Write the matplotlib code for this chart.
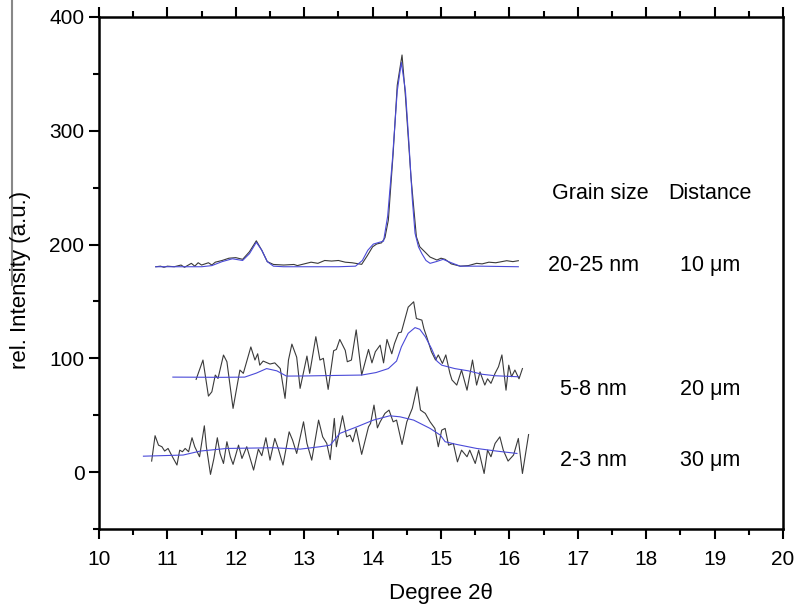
import matplotlib.pyplot as plt
from matplotlib.lines import Line2D
import numpy as np

plt.rcParams['font.family'] = ['Liberation Sans', 'DejaVu Sans']

# 20-25 nm, measured data and fit
x1 = [10.83, 10.9, 10.95, 11.0, 11.1, 11.2, 11.25, 11.35, 11.4, 11.45, 11.5, 11.6, 11.65,
      11.7, 11.8, 11.9, 12.0, 12.1, 12.2, 12.3, 12.38, 12.46, 12.55, 12.7, 12.85, 12.9,
      13.0, 13.1, 13.2, 13.3, 13.4, 13.5, 13.6, 13.7, 13.84, 13.92, 14.0, 14.06, 14.13,
      14.18, 14.23, 14.3, 14.36, 14.43, 14.48, 14.52, 14.56, 14.6, 14.64, 14.69, 14.74,
      14.84, 14.94, 15.0, 15.06, 15.15, 15.28, 15.4, 15.52, 15.6, 15.7, 15.8, 15.96,
      16.05, 16.13]
y1 = [180.5, 181, 180, 181, 180.5, 182, 180, 183.5, 181, 184, 182, 184, 182,
      184.5, 186, 188, 188.5, 187, 193.7, 203.3, 195, 185, 182.5, 182, 182.5, 181.5,
      183, 184.5, 183.5, 186, 185.5, 186, 184.5, 184, 182.6, 190, 198, 200.5, 201.5,
      206, 221.5, 280, 340, 366.6, 330, 294.8, 260, 233, 206.8, 198, 195,
      189, 186.4, 188, 187, 183, 181, 181.5, 183.5, 183, 184.5, 184, 185.8,
      185, 185.8]
fx1 = [10.83, 11.5, 11.65, 11.8, 11.95, 12.1, 12.2, 12.3, 12.38, 12.46, 12.55, 12.7, 13.5,
       13.75, 13.85, 13.93, 14.01, 14.1, 14.16, 14.22, 14.29, 14.36, 14.42, 14.48, 14.53,
       14.58, 14.62, 14.67, 14.72, 14.78, 14.84, 14.93, 15.03, 15.15, 15.28, 15.57, 16.13]
fy1 = [180.5, 180.5, 181.5, 185, 187.5, 186, 192, 202, 195, 185, 181, 180.5, 180.5,
       181, 186, 195, 200.4, 202, 203, 225, 275, 335, 360, 335, 290,
       240, 210, 198, 192, 186, 183.5, 185, 187, 184, 181, 181, 180.5]

# 5-8 nm
x2 = [11.42, 11.52, 11.6, 11.65, 11.7, 11.74, 11.82, 11.87, 11.96, 12.06, 12.11, 12.22,
      12.28, 12.32, 12.35, 12.4, 12.5, 12.57, 12.65, 12.72, 12.77, 12.82, 12.89, 12.94,
      13.04, 13.08, 13.17, 13.23, 13.28, 13.35, 13.43, 13.47, 13.52, 13.6, 13.63, 13.69,
      13.76, 13.84, 13.94, 13.99, 14.04, 14.11, 14.16, 14.21, 14.28, 14.32, 14.38, 14.42,
      14.52, 14.6, 14.64, 14.72, 14.75, 14.79, 14.86, 14.92, 14.96, 15.02, 15.07, 15.13,
      15.16, 15.23, 15.3, 15.38, 15.46, 15.52, 15.57, 15.64, 15.68, 15.73, 15.79, 15.84,
      15.89, 15.95, 15.99, 16.03, 16.08, 16.14, 16.19]
y2 = [81.5, 98.5, 66.8, 70.6, 85.3, 82.3, 102.9, 97, 56, 89.7, 86.8, 110,
      98.5, 104, 94, 97.6, 95, 96, 91, 64.8, 98.5, 112.5, 101, 73.6,
      102, 86.8, 119, 98.5, 100, 72.7, 106.7, 107.8, 116.6, 107, 97, 98.5,
      125, 85.3, 107.8, 96, 105.8, 111.6, 96, 116.6, 104, 113, 122.5, 123,
      145, 149.7, 135, 133.6, 126, 119, 105.8, 98.5, 103, 95.5, 103, 86.8,
      81, 76.5, 89.7, 72, 98.5, 76.5, 88, 76.5, 82, 78, 86.8, 92.6,
      103, 72, 94, 83.8, 89.7, 82, 91]
fx2 = [11.08, 11.8, 12.13, 12.3, 12.45, 12.6, 12.74, 13.0, 13.5, 13.84, 14.05, 14.23,
       14.35, 14.42, 14.52, 14.62, 14.69, 14.77, 14.86, 14.94, 15.01, 15.2, 15.4, 15.6,
       15.79, 16.13]
fy2 = [83.5, 83.3, 83.5, 87, 91, 89, 84.4, 84.5, 85, 85.3, 87.5, 91,
       97.6, 110, 122, 127, 125.5, 119, 108.7, 97.6, 94, 91, 89, 86,
       84.7, 83.8]

# 2-3 nm
x3 = [10.77, 10.82, 10.87, 10.92, 10.96, 11.01, 11.06, 11.14, 11.18, 11.22, 11.26, 11.31,
      11.36, 11.4, 11.47, 11.54, 11.57, 11.63, 11.68, 11.73, 11.77, 11.82, 11.87, 11.92,
      11.96, 12.04, 12.09, 12.16, 12.26, 12.33, 12.38, 12.44, 12.5, 12.57, 12.62, 12.69,
      12.78, 12.83, 12.89, 12.99, 13.04, 13.11, 13.21, 13.27, 13.33, 13.38, 13.44, 13.47,
      13.56, 13.62, 13.67, 13.71, 13.76, 13.84, 13.94, 13.97, 14.02, 14.07, 14.11, 14.18,
      14.24, 14.3, 14.35, 14.43, 14.5, 14.58, 14.65, 14.7, 14.77, 14.84, 14.91, 14.96,
      15.01, 15.06, 15.11, 15.18, 15.24, 15.3, 15.38, 15.42, 15.5, 15.55, 15.63, 15.68,
      15.73, 15.79, 15.86, 15.91, 15.98, 16.06, 16.13, 16.19, 16.28]
y3 = [9.7, 32, 23.7, 22.3, 18.5, 20.8, 15, 6.2, 19.3, 17.9, 20.8, 17.9,
      30.2, 22.3, 13.5, 40.7, 22.3, -2, 12, 30.2, 16.4, 7.6, 26.7, 13.5,
      6.8, 23.7, 12, 22.3, 1.8, 20.2, 14.4, 30.2, 10.5, 29.6, 20.8, 6.2,
      35.4, 28.1, 16.4, 44.2, 25.2, 10.5, 45.7, 31, 25.2, 11, 47.2, 22.3,
      49.5, 31, 32.5, 26.7, 38.4, 15.6, 39.8, 42.8, 58.9, 38.9, 44.2, 51.6,
      54.5, 44.2, 45.7, 24.3, 44.2, 56, 75, 54.5, 51.6, 44.2, 38.4, 22.3,
      36.9, 38.4, 23.7, 25.2, 9, 19.3, 13.5, 19.3, 7.6, 19.3, -1.2, 19.3,
      13.5, 25.2, 31, 19.3, 9.7, 15, 29.6, -1.2, 33]
fx3 = [10.65, 11.23, 11.48, 11.87, 12.55, 12.94, 13.23, 13.38, 13.52, 13.77, 14.01, 14.25,
       14.4, 14.6, 14.84, 14.99, 15.06, 15.23, 15.52, 15.81, 16.11]
fy3 = [14, 15, 18.5, 20.8, 21.4, 20.2, 22.3, 23.7, 34, 39.8, 45.7, 49.5,
       48.6, 45.7, 38.4, 32.5, 26.7, 24.3, 20.8, 18.5, 16.4]

sizes = ['20-25 nm', '5-8 nm', '2-3 nm']
distances = ['10 \u03bcm', '20 \u03bcm', '30 \u03bcm']

fig = plt.figure(figsize=(7.95, 6.07), dpi=100)
ax = fig.add_axes([0.1245, 0.1285, 0.8605, 0.8435])

data_col = '#3a3a3a'
fit_col = '#4a4ad8'
for xs, ys, fx, fy in [(x1, y1, fx1, fy1), (x2, y2, fx2, fy2), (x3, y3, fx3, fy3)]:
    ax.plot(xs, ys, color=data_col, lw=0.8)
    ax.plot(fx, fy, color=fit_col, lw=0.8)

ax.set_xlim(10, 20)
ax.set_ylim(-50, 400)
ax.set_xticks(np.arange(10, 21, 1))
ax.set_xticks(np.arange(10.5, 20, 1), minor=True)
ax.set_yticks([0, 100, 200, 300, 400])
ax.set_yticks([-50, 50, 150, 250, 350], minor=True)
ax.tick_params(which='both', direction='out', width=1.5, labelsize=15, top=True)
ax.tick_params(which='major', length=7)
ax.tick_params(which='minor', length=4)
ax.tick_params(axis='x', pad=8)
for s in ax.spines.values():
    s.set_linewidth(1.8)

ax.set_xlabel('Degree 2\u03b8', fontsize=16, labelpad=10)
fig.text(0.026, 1 - 280 / 607, 'rel. Intensity (a.u.)', rotation=90,
         fontsize=16, ha='center', va='center')
# stray vertical line at the far left of the original
fig.add_artist(Line2D([12 / 795, 12 / 795], [1.0, 1 - 285 / 607], color='#888888', lw=1.5))

ax.text(10 + (600 - 99) / 68.4, 245, 'Grain size', fontsize=15.5, ha='center', va='center')
ax.text(10 + (710 - 99) / 68.4, 245, 'Distance', fontsize=15.5, ha='center', va='center')
for s, d, yy in zip(sizes, distances, [182, 73, 10]):
    ax.text(10 + (593 - 99) / 68.4, yy, s, fontsize=15.5, ha='center', va='center')
    ax.text(10 + (710 - 99) / 68.4, yy, d, fontsize=15.5, ha='center', va='center')

fig.savefig('out.png', dpi=100)
